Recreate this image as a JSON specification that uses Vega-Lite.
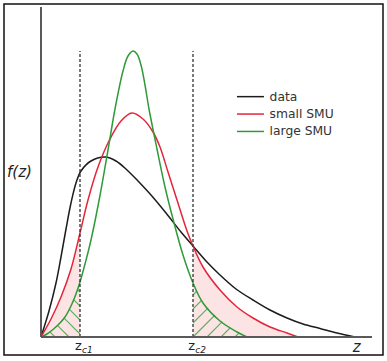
{
  "$schema": "https://vega.github.io/schema/vega-lite/v6.json",
  "width": 379,
  "height": 351,
  "autosize": {"type": "none"},
  "padding": {"left": 4, "top": 4, "right": 4, "bottom": 6},
  "background": "white",
  "config": {"view": {"stroke": "#111111", "strokeWidth": 1.5}, "font": "DejaVu Sans"},
  "datasets": {
    "curves": [
      {"series": "data", "z": 0, "f": 0}, {"series": "data", "z": 8, "f": 26}, {"series": "data", "z": 15, "f": 54},
      {"series": "data", "z": 20, "f": 80}, {"series": "data", "z": 25, "f": 108}, {"series": "data", "z": 30, "f": 134},
      {"series": "data", "z": 35, "f": 154}, {"series": "data", "z": 40, "f": 166}, {"series": "data", "z": 50, "f": 176},
      {"series": "data", "z": 64, "f": 180}, {"series": "data", "z": 75, "f": 176}, {"series": "data", "z": 86, "f": 167},
      {"series": "data", "z": 97, "f": 156}, {"series": "data", "z": 110, "f": 142}, {"series": "data", "z": 125, "f": 124},
      {"series": "data", "z": 140, "f": 105}, {"series": "data", "z": 152, "f": 91}, {"series": "data", "z": 165, "f": 76},
      {"series": "data", "z": 179, "f": 62}, {"series": "data", "z": 195, "f": 48}, {"series": "data", "z": 212, "f": 37},
      {"series": "data", "z": 229, "f": 27}, {"series": "data", "z": 246, "f": 19}, {"series": "data", "z": 262, "f": 13},
      {"series": "data", "z": 279, "f": 8.5}, {"series": "data", "z": 296, "f": 4}, {"series": "data", "z": 314, "f": 0},
      {"series": "small SMU", "z": 0, "f": 0}, {"series": "small SMU", "z": 10, "f": 18}, {"series": "small SMU", "z": 20, "f": 40},
      {"series": "small SMU", "z": 30, "f": 68}, {"series": "small SMU", "z": 39, "f": 104}, {"series": "small SMU", "z": 47, "f": 137},
      {"series": "small SMU", "z": 57, "f": 170}, {"series": "small SMU", "z": 68, "f": 196}, {"series": "small SMU", "z": 80, "f": 216},
      {"series": "small SMU", "z": 91, "f": 224}, {"series": "small SMU", "z": 102, "f": 218}, {"series": "small SMU", "z": 112, "f": 205},
      {"series": "small SMU", "z": 119, "f": 190}, {"series": "small SMU", "z": 127, "f": 165}, {"series": "small SMU", "z": 136, "f": 137},
      {"series": "small SMU", "z": 146, "f": 106}, {"series": "small SMU", "z": 152, "f": 91}, {"series": "small SMU", "z": 162, "f": 70},
      {"series": "small SMU", "z": 179, "f": 47}, {"series": "small SMU", "z": 196, "f": 30}, {"series": "small SMU", "z": 212, "f": 19},
      {"series": "small SMU", "z": 229, "f": 10}, {"series": "small SMU", "z": 246, "f": 4}, {"series": "small SMU", "z": 257, "f": 0},
      {"series": "large SMU", "z": 0, "f": 0}, {"series": "large SMU", "z": 6, "f": 3}, {"series": "large SMU", "z": 12, "f": 7.5},
      {"series": "large SMU", "z": 18, "f": 13}, {"series": "large SMU", "z": 24, "f": 20}, {"series": "large SMU", "z": 30, "f": 31},
      {"series": "large SMU", "z": 35, "f": 43}, {"series": "large SMU", "z": 39, "f": 55}, {"series": "large SMU", "z": 44, "f": 73},
      {"series": "large SMU", "z": 50, "f": 97}, {"series": "large SMU", "z": 58.7, "f": 140}, {"series": "large SMU", "z": 67, "f": 187},
      {"series": "large SMU", "z": 74, "f": 228}, {"series": "large SMU", "z": 82, "f": 266}, {"series": "large SMU", "z": 87, "f": 281},
      {"series": "large SMU", "z": 92, "f": 286}, {"series": "large SMU", "z": 96, "f": 283}, {"series": "large SMU", "z": 100, "f": 272},
      {"series": "large SMU", "z": 104, "f": 252}, {"series": "large SMU", "z": 108, "f": 228}, {"series": "large SMU", "z": 116, "f": 188},
      {"series": "large SMU", "z": 124, "f": 150}, {"series": "large SMU", "z": 132, "f": 118}, {"series": "large SMU", "z": 142, "f": 82},
      {"series": "large SMU", "z": 152, "f": 54}, {"series": "large SMU", "z": 162, "f": 34}, {"series": "large SMU", "z": 179, "f": 16},
      {"series": "large SMU", "z": 196, "f": 5}, {"series": "large SMU", "z": 206, "f": 0}
    ],
    "hatch": [
      {"z1": 8.7, "f1": 5.3, "z2": 14, "f2": 0},
      {"z1": 16.4, "f1": 11.6, "z2": 28, "f2": 0},
      {"z1": 23.1, "f1": 18.9, "z2": 39, "f2": 3},
      {"z1": 28.2, "f1": 27.8, "z2": 39, "f2": 17},
      {"z1": 32.6, "f1": 37.4, "z2": 39, "f2": 31},
      {"z1": 36.5, "f1": 47.5, "z2": 39, "f2": 45},
      {"z1": 152, "f1": 42, "z2": 156, "f2": 46},
      {"z1": 152, "f1": 28, "z2": 160.8, "f2": 36.8},
      {"z1": 152, "f1": 14, "z2": 167.1, "f2": 29.1},
      {"z1": 152, "f1": 0, "z2": 174, "f2": 22},
      {"z1": 166, "f1": 0, "z2": 181.3, "f2": 15.3},
      {"z1": 180, "f1": 0, "z2": 189.5, "f2": 9.5},
      {"z1": 194, "f1": 0, "z2": 197.9, "f2": 3.9}
    ],
    "cutoffs": [{"zc": 39, "base": 0, "top": 286}, {"zc": 152, "base": 0, "top": 286}],
    "axes": [{"z1": 0, "z2": 331, "f1": 0, "f2": 0}, {"z1": 0, "z2": 0, "f1": 0, "f2": 330}]
  },
  "layer": [
    {
      "data": {"name": "curves"},
      "transform": [{"filter": "datum.series == 'small SMU' && datum.z <= 39"}],
      "mark": {"type": "area", "interpolate": "catmull-rom", "color": "#fde4e4"},
      "encoding": {
        "x": {"field": "z", "type": "quantitative", "scale": {"domain": [-37, 342]}, "axis": null},
        "y": {"field": "f", "type": "quantitative", "scale": {"domain": [-18, 333]}, "axis": null},
        "y2": {"datum": 0}
      }
    },
    {
      "data": {"name": "curves"},
      "transform": [{"filter": "datum.series == 'small SMU' && datum.z >= 152"}],
      "mark": {"type": "area", "interpolate": "catmull-rom", "color": "#fde4e4"},
      "encoding": {
        "x": {"field": "z", "type": "quantitative", "scale": {"domain": [-37, 342]}, "axis": null},
        "y": {"field": "f", "type": "quantitative", "scale": {"domain": [-18, 333]}, "axis": null},
        "y2": {"datum": 0}
      }
    },
    {
      "data": {"name": "hatch"},
      "mark": {"type": "rule", "color": "#5fae5f", "strokeWidth": 1.1},
      "encoding": {
        "x": {"field": "z1", "type": "quantitative", "scale": {"domain": [-37, 342]}, "axis": null},
        "y": {"field": "f1", "type": "quantitative", "scale": {"domain": [-18, 333]}, "axis": null},
        "x2": {"field": "z2"},
        "y2": {"field": "f2"}
      }
    },
    {
      "data": {"name": "curves"},
      "mark": {"type": "line", "interpolate": "catmull-rom", "strokeWidth": 1.5},
      "encoding": {
        "x": {"field": "z", "type": "quantitative", "scale": {"domain": [-37, 342]}, "axis": null},
        "y": {"field": "f", "type": "quantitative", "scale": {"domain": [-18, 333]}, "axis": null},
        "color": {
          "field": "series", "type": "nominal",
          "scale": {"domain": ["data", "small SMU", "large SMU"], "range": ["#1c1c1c", "#e3263a", "#2e9a3a"]},
          "legend": {
            "orient": "none", "legendX": 240.3, "legendY": 86.5, "direction": "vertical", "title": null,
            "symbolType": "M-3,0H3", "symbolSize": 81, "symbolStrokeWidth": 1.5,
            "labelFontSize": 12.3, "labelOffset": 13, "rowPadding": 4.4, "padding": 0,
            "labelColor": "#333333", "labelFont": "DejaVu Sans"
          }
        }
      }
    },
    {
      "data": {"name": "cutoffs"},
      "mark": {"type": "rule", "color": "#333333", "strokeWidth": 1.3, "strokeDash": [3, 2]},
      "encoding": {
        "x": {"field": "zc", "type": "quantitative", "scale": {"domain": [-37, 342]}, "axis": null},
        "y": {"field": "base", "type": "quantitative", "scale": {"domain": [-18, 333]}, "axis": null},
        "y2": {"field": "top"}
      }
    },
    {
      "data": {"name": "axes"},
      "mark": {"type": "rule", "color": "#5a5a5a", "strokeWidth": 2},
      "encoding": {
        "x": {"field": "z1", "type": "quantitative", "scale": {"domain": [-37, 342]}, "axis": null},
        "y": {"field": "f1", "type": "quantitative", "scale": {"domain": [-18, 333]}, "axis": null},
        "x2": {"field": "z2"},
        "y2": {"field": "f2"}
      }
    },
    {
      "data": {"values": [{"label": "f(z)", "z": -21.5, "f": 165}, {"label": "z", "z": 315.7, "f": -10}]},
      "mark": {"type": "text", "fontSize": 15, "fontStyle": "italic", "align": "center", "baseline": "middle", "color": "#222222"},
      "encoding": {
        "x": {"field": "z", "type": "quantitative", "scale": {"domain": [-37, 342]}, "axis": null},
        "y": {"field": "f", "type": "quantitative", "scale": {"domain": [-18, 333]}, "axis": null},
        "text": {"field": "label"}
      }
    },
    {
      "data": {"values": [{"label": "z", "z": 37.3, "f": -9}, {"label": "z", "z": 150.7, "f": -9}]},
      "mark": {"type": "text", "fontSize": 13, "align": "center", "baseline": "middle", "color": "#222222"},
      "encoding": {
        "x": {"field": "z", "type": "quantitative", "scale": {"domain": [-37, 342]}, "axis": null},
        "y": {"field": "f", "type": "quantitative", "scale": {"domain": [-18, 333]}, "axis": null},
        "text": {"field": "label"}
      }
    },
    {
      "data": {"values": [{"label": "c1", "z": 41, "f": -12.5}, {"label": "c2", "z": 154.3, "f": -12.5}]},
      "mark": {"type": "text", "fontSize": 9, "fontStyle": "italic", "align": "left", "baseline": "middle", "color": "#222222"},
      "encoding": {
        "x": {"field": "z", "type": "quantitative", "scale": {"domain": [-37, 342]}, "axis": null},
        "y": {"field": "f", "type": "quantitative", "scale": {"domain": [-18, 333]}, "axis": null},
        "text": {"field": "label"}
      }
    }
  ]
}
